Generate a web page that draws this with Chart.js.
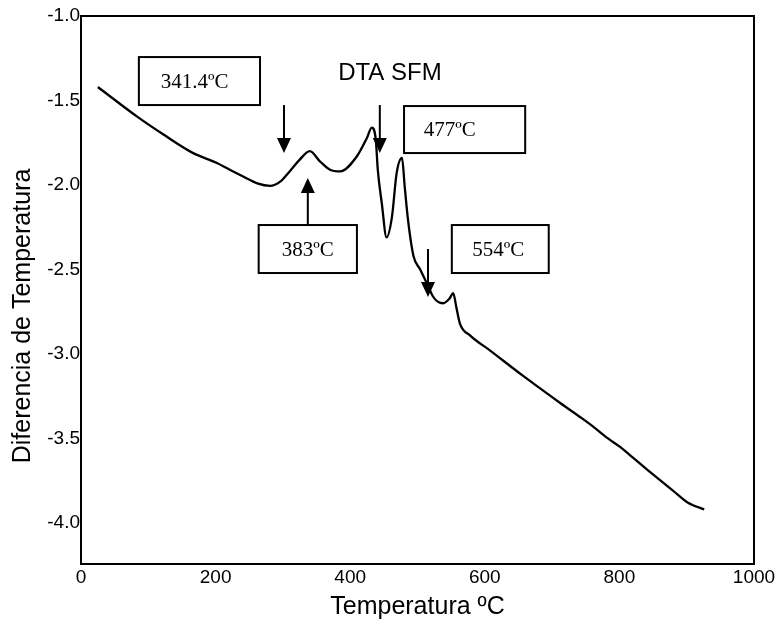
<!DOCTYPE html>
<html>
<head>
<meta charset="utf-8">
<script src="https://cdn.jsdelivr.net/npm/chart.js@4.4.0/dist/chart.umd.min.js"></script>
<style>
  html, body { margin: 0; padding: 0; background: #fff; }
  #wrap { width: 781px; height: 628px; }
</style>
</head>
<body>
<div id="wrap"><canvas id="dtaChart" width="781" height="628"></canvas></div>
<script>
    // curva DTA (temperatura ºC / diferencia de temperatura)
    const temps = [25, 85, 122, 166, 202, 221, 241, 262, 281, 296, 310, 325, 340, 355, 370, 385, 410, 425, 432, 438, 441, 447, 454, 462, 469, 477, 481, 486, 494, 504, 516, 523, 530, 538, 548, 553, 558, 563, 578, 608, 657, 712, 744, 761, 783, 801, 816, 843, 880, 902, 926];
    const difTemp = [-1.42, -1.60, -1.70, -1.81, -1.87, -1.91, -1.95, -1.99, -2.005, -1.98, -1.92, -1.85, -1.80, -1.86, -1.91, -1.92, -1.83, -1.72, -1.66, -1.73, -1.91, -2.11, -2.31, -2.19, -1.93, -1.84, -2.01, -2.21, -2.42, -2.50, -2.60, -2.66, -2.69, -2.70, -2.67, -2.64, -2.73, -2.82, -2.89, -2.98, -3.13, -3.29, -3.38, -3.43, -3.50, -3.55, -3.60, -3.69, -3.81, -3.88, -3.92];

    const xTicks = [0, 200, 400, 600, 800, 1000];
    const yTicks = [-1.0, -1.5, -2.0, -2.5, -3.0, -3.5, -4.0];

    // etiquetas de los picos (cajas) y flechas, en coordenadas de datos
    const boxLabels = ['341.4ºC', '477ºC', '383ºC', '554ºC'];
    const boxX1 = [86, 480, 264, 551];
    const boxX2 = [266, 660, 410, 695];
    const boxY1 = [-1.243, -1.533, -2.237, -2.237];
    const boxY2 = [-1.527, -1.811, -2.521, -2.521];
    const boxTextX = [169, 548, 337, 620];

    const arrowX = [301.6, 444, 337, 515.6];
    const arrowFrom = [-1.527, -1.527, -2.237, -2.379];
    const arrowTo = [-1.811, -1.811, -1.959, -2.663];

    const plotTitle = 'DTA SFM';
    const xTitle = 'Temperatura ºC';
    const yTitle = 'Diferencia de Temperatura';

    const sans = "'Liberation Sans', Arial, sans-serif";
    const serif = "'Liberation Serif', 'Times New Roman', serif";

    const decoPlugin = {
        id: 'deco',
        afterDraw(chart) {
            const ctx = chart.ctx;
            const xs = chart.scales.x;
            const ys = chart.scales.y;
            const a = chart.chartArea;
            ctx.save();

            // marco
            ctx.strokeStyle = '#000';
            ctx.lineWidth = 2;
            ctx.strokeRect(a.left, a.top, a.right - a.left, a.bottom - a.top);

            // cajas
            ctx.lineWidth = 2;
            ctx.fillStyle = '#000';
            ctx.font = '21px ' + serif;
            ctx.textAlign = 'center';
            ctx.textBaseline = 'middle';
            for (let i = 0; i < boxLabels.length; i++) {
                const x1 = xs.getPixelForValue(boxX1[i]);
                const x2 = xs.getPixelForValue(boxX2[i]);
                const y1 = ys.getPixelForValue(boxY1[i]);
                const y2 = ys.getPixelForValue(boxY2[i]);
                ctx.fillStyle = '#fff';
                ctx.fillRect(x1, y1, x2 - x1, y2 - y1);
                ctx.strokeRect(x1, y1, x2 - x1, y2 - y1);
                ctx.fillStyle = '#000';
                ctx.fillText(boxLabels[i], xs.getPixelForValue(boxTextX[i]), (y1 + y2) / 2 + 1);
            }

            // flechas
            for (let i = 0; i < arrowX.length; i++) {
                const x = xs.getPixelForValue(arrowX[i]);
                const yA = ys.getPixelForValue(arrowFrom[i]);
                const yB = ys.getPixelForValue(arrowTo[i]);
                const dir = yB > yA ? 1 : -1;
                ctx.lineWidth = 2;
                ctx.beginPath();
                ctx.moveTo(x, yA);
                ctx.lineTo(x, yB - dir * 10);
                ctx.stroke();
                ctx.beginPath();
                ctx.moveTo(x, yB);
                ctx.lineTo(x - 7, yB - dir * 15);
                ctx.lineTo(x + 7, yB - dir * 15);
                ctx.closePath();
                ctx.fill();
            }

            // titulo del grafico
            ctx.font = '24px ' + sans;
            ctx.fillText(plotTitle, xs.getPixelForValue(459), ys.getPixelForValue(-1.337));

            // titulo eje y
            ctx.translate(23, 316);
            ctx.rotate(-Math.PI / 2);
            ctx.font = '25px ' + sans;
            ctx.fillText(yTitle, 0, 0);
            ctx.restore();
        }
    };

    const ctx = document.getElementById('dtaChart').getContext('2d');
    const dtaChart = new Chart(ctx, {
        type: 'line',
        data: {
            datasets: [{
                data: temps.map((t, i) => ({ x: t, y: difTemp[i] })),
                borderColor: '#000',
                borderWidth: 2.3,
                pointRadius: 0,
                fill: false,
                cubicInterpolationMode: 'monotone'
            }]
        },
        options: {
            responsive: false,
            animation: false,
            layout: { padding: { left: 0, top: 16, right: 27, bottom: 0 } },
            plugins: {
                legend: { display: false },
                tooltip: { enabled: false }
            },
            scales: {
                x: {
                    type: 'linear',
                    min: 0,
                    max: 1000,
                    afterBuildTicks: (scale) => { scale.ticks = xTicks.map(v => ({ value: v })); },
                    afterFit: (scale) => { scale.height = 64; },
                    grid: { display: false, drawTicks: false },
                    border: { display: true, color: '#000', width: 2 },
                    ticks: {
                        color: '#000',
                        padding: 2,
                        maxRotation: 0,
                        font: { family: sans, size: 19 },
                        callback: (v) => String(v)
                    },
                    title: {
                        display: true,
                        text: xTitle,
                        color: '#000',
                        font: { family: sans, size: 25 },
                        padding: { top: 0, bottom: 6 }
                    }
                },
                y: {
                    type: 'linear',
                    min: -4.243,
                    max: -1.0,
                    afterBuildTicks: (scale) => { scale.ticks = yTicks.map(v => ({ value: v })); },
                    afterFit: (scale) => { scale.width = 81; },
                    grid: { display: false, drawTicks: false },
                    border: { display: true, color: '#000', width: 2 },
                    ticks: {
                        color: '#000',
                        padding: 1,
                        font: { family: sans, size: 19 },
                        callback: (v) => Number(v).toFixed(1)
                    }
                }
            }
        },
        plugins: [decoPlugin]
    });
</script>
</body>
</html>
